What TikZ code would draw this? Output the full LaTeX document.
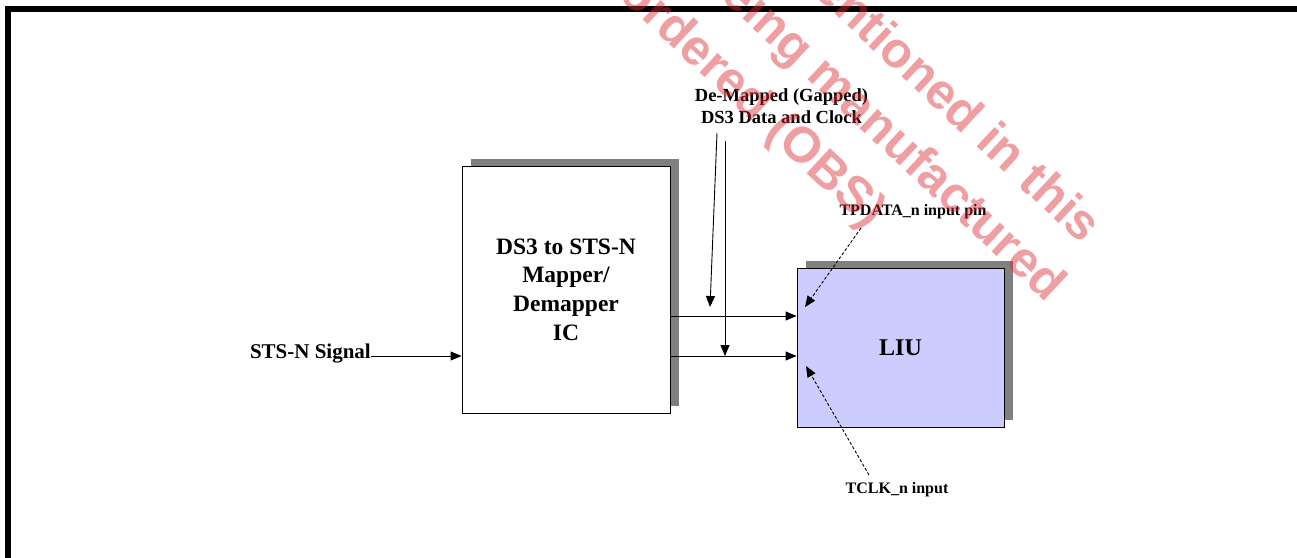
\documentclass[tikz,border=0pt]{standalone}
\usepackage{fontspec}
\setmainfont{Liberation Serif}
\newfontfamily\wmfont{Liberation Sans}
\usetikzlibrary{arrows.meta,shadows}
\definecolor{shadowgray}{RGB}{128,128,128}
\definecolor{liublue}{RGB}{204,204,255}
\definecolor{wmred}{RGB}{220,40,50}
\begin{document}
\begin{tikzpicture}[x=1pt,y=-1pt,
  arr/.style={line width=0.9pt,-{Triangle[length=11pt,width=9pt]}},
  darr/.style={arr,dash pattern=on 3pt off 2pt},
  lbl/.style={font=\bfseries\fontsize{16}{19}\selectfont,inner sep=0pt},
  blockbox/.style={draw,line width=0.9pt,inner sep=0pt,align=center,
    drop shadow={shadow xshift=8.5pt,shadow yshift=7.5pt,fill=shadowgray,opacity=1}},
  wm/.style={font=\wmfont\bfseries\fontsize{50}{60}\selectfont,text=wmred,text opacity=0.45,
    rotate=-43,anchor=base east,inner sep=0pt}
]
\useasboundingbox (0,0) rectangle (1297,557);
\fill[white] (0,0) rectangle (1297,557);
% frame
\draw[line width=6.5pt,line join=miter] (8,560) -- (8,9) -- (1300,9);
% blocks
\node[blockbox,fill=white,minimum width=208pt,minimum height=247pt,
  font=\bfseries\fontsize{23.5}{28.7}\selectfont] (map) at (566,289.5)
  {DS3 to STS-N\\Mapper/\\Demapper\\IC};
\node[blockbox,fill=liublue,minimum width=207pt,minimum height=159pt,
  font=\bfseries\fontsize{24}{28}\selectfont] (liu) at (900.5,347.5) {LIU};
% input signal
\node[font=\bfseries\fontsize{21}{25}\selectfont,inner sep=0pt,anchor=base east] (sig) at (371,358) {STS-N Signal};
\coordinate (sigy) at (0,356);
\draw[arr] (sig.east |- sigy) -- (map.west |- sigy);
% data / clock lines
\coordinate (ly1) at (0,316);
\coordinate (ly2) at (0,356);
\draw[arr] (map.east |- ly1) -- (liu.west |- ly1);
\draw[arr] (map.east |- ly2) -- (liu.west |- ly2);
% de-mapped label
\node[font=\bfseries\fontsize{18.5}{22.5}\selectfont,inner sep=0pt,align=center] (dm) at (781.5,106)
  {De-Mapped (Gapped)\\DS3 Data and Clock};
\coordinate (d1s) at (717,133);
\coordinate (d1e) at (710,307);
\coordinate (d2s) at (725,141);
\coordinate (d2e) at (725,356);
\draw[arr] (d1s) -- (d1e);
\draw[arr] (d2s) -- (d2e);
% pin labels
\node[lbl] (tp) at (913,212) {TPDATA\_n input pin};
\node[lbl] (tc) at (897,490) {TCLK\_n input};
\coordinate (tps) at (861,228);
\coordinate (tpe) at (805,307);
\coordinate (tcs) at (869,475);
\coordinate (tce) at (806,366);
\draw[darr] (tps) -- (tpe);
\draw[darr] (tcs) -- (tce);
% watermark
\begin{scope}
\clip (0,0) rectangle (1297,557);
\node[wm] (wm1) at (1082,245) {mentioned in this};
\node[wm] (wm2) at (1047,303) {being manufactured};
\node[wm] (wm3) at (868,230) {ordered (OBS)};
\end{scope}
\end{tikzpicture}
\end{document}
